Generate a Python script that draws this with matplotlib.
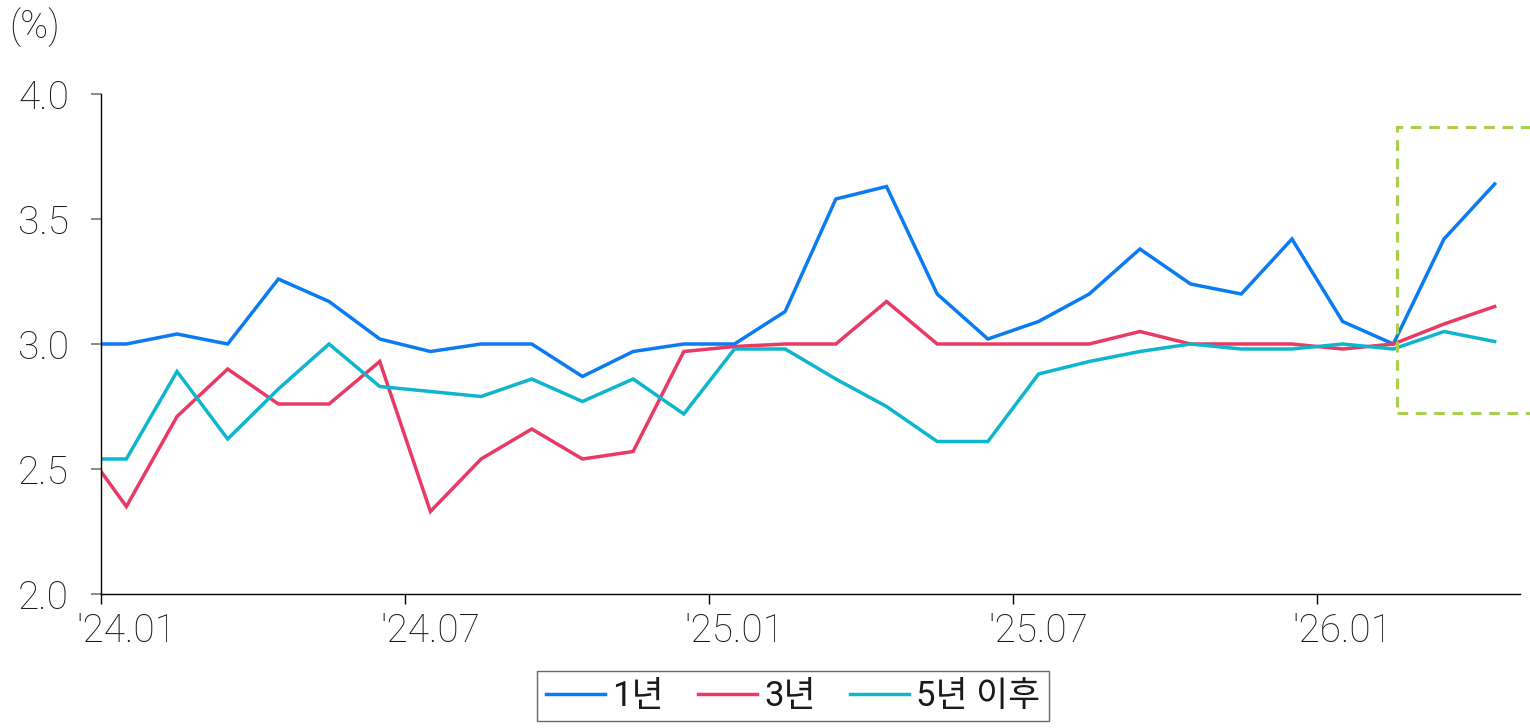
import matplotlib
matplotlib.use("Agg")
import matplotlib.pyplot as plt
from matplotlib.patches import Rectangle

plt.rcParams['font.family'] = ['Roboto', 'Noto Sans CJK KR', 'DejaVu Sans']
plt.rcParams['font.weight'] = 'light'

# x positions: month index from '24.01 (first point sits on the axis edge)
x_pos = [0.0] + [i + 0.5 for i in range(28)]

rate_1y = [3.00, 3.00, 3.04, 3.00, 3.26, 3.17, 3.02, 2.97, 3.00, 3.00,
           2.87, 2.97, 3.00, 3.00, 3.13, 3.58, 3.63, 3.20, 3.02, 3.09,
           3.20, 3.38, 3.24, 3.20, 3.42, 3.09, 3.00, 3.42, 3.64]
rate_3y = [2.49, 2.35, 2.71, 2.90, 2.76, 2.76, 2.93, 2.33, 2.54, 2.66,
           2.54, 2.57, 2.97, 2.99, 3.00, 3.00, 3.17, 3.00, 3.00, 3.00,
           3.00, 3.05, 3.00, 3.00, 3.00, 2.98, 3.00, 3.08, 3.15]
rate_5y = [2.54, 2.54, 2.89, 2.62, 2.82, 3.00, 2.83, 2.81, 2.79, 2.86,
           2.77, 2.86, 2.72, 2.98, 2.98, 2.86, 2.75, 2.61, 2.61, 2.88,
           2.93, 2.97, 3.00, 2.98, 2.98, 3.00, 2.98, 3.05, 3.01]

series_names = ["1년", "3년", "5년 이후"]
series_colors = ["#0A7BF0", "#E83A64", "#0DB6CC"]

tick_pos = [0, 6, 12, 18, 24]
tick_labels = ["'24.01", "'24.07", "'25.01", "'25.07", "'26.01"]

# highlighted forecast box (month index / value)
box_x0, box_x1 = 25.58, 29.5
box_y0, box_y1 = 2.723, 3.869

fig = plt.figure(figsize=(15.3, 7.28), dpi=100)
ax = fig.add_axes([101 / 1530, 1 - 594 / 728, 1419 / 1530, 500 / 728])

for vals, name, col in zip([rate_1y, rate_3y, rate_5y], series_names, series_colors):
    ax.plot(x_pos, vals, color=col, lw=2.5, label=name, solid_joinstyle='miter')

rect = Rectangle((box_x0, box_y0), box_x1 - box_x0, box_y1 - box_y0,
                 fill=False, edgecolor="#A8D04C", lw=2.2, ls=(0, (3.5, 2.5)),
                 clip_on=False, zorder=5)
ax.add_patch(rect)

ax.set_xlim(0, 28)
ax.set_ylim(2.0, 4.0)
ax.set_yticks([2.0, 2.5, 3.0, 3.5, 4.0])
ax.set_yticklabels(["2.0", "2.5", "3.0", "3.5", "4.0"])
# tick marks on month boundaries, labels centred in the month
ax.set_xticks(tick_pos)
ax.set_xticklabels([])
ax.set_xticks([p + 0.5 for p in tick_pos], minor=True)
ax.set_xticklabels(tick_labels, minor=True)

for s in ["top", "right"]:
    ax.spines[s].set_visible(False)
ax.spines["left"].set_linewidth(1.0)
ax.spines["bottom"].set_linewidth(1.0)

ax.tick_params(axis="y", direction="out", length=7, width=1.2, color="#777777",
               labelsize=28, pad=16, labelcolor="#1a1a1a")
ax.tick_params(axis="x", which="major", direction="out", length=7, width=1.0,
               color="black")
ax.tick_params(axis="x", which="minor", length=0, labelsize=28, pad=13,
               labelcolor="#1a1a1a")

fig.text(9 / 1530, 1 - 27 / 728, "(%)", fontsize=27, va="center", ha="left",
         color="#1a1a1a")

leg = fig.legend(loc="upper center", bbox_to_anchor=(793 / 1530, 1 - 671 / 728),
                 ncol=3, frameon=True, fancybox=False,
                 prop={"family": ["Roboto", "Noto Sans CJK KR"], "weight": "normal",
                       "size": 25},
                 edgecolor="#444444", handlelength=1.7, handletextpad=0.2,
                 columnspacing=1.0, borderpad=0.25, borderaxespad=0.0)
leg.get_frame().set_linewidth(1.0)
for t in leg.get_texts():
    t.set_color("#1a1a1a")

fig.savefig("out.png", dpi=100)
